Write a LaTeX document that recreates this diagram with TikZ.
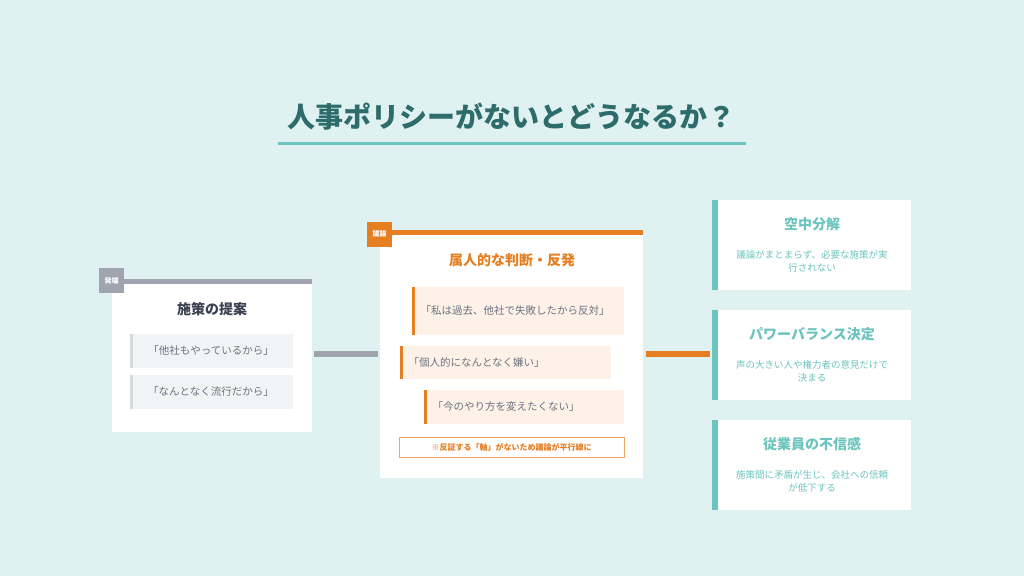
\documentclass[tikz,border=0pt]{standalone}
\usepackage{fontspec}
\setmainfont{Noto Sans CJK JP}
\definecolor{bgc}{HTML}{E0F1F1}
\definecolor{teal}{HTML}{6CC4BE}
\definecolor{darkteal}{HTML}{2E6B6B}
\definecolor{grayc}{HTML}{A0A4AE}
\definecolor{grayfill}{HTML}{F2F3F5}
\definecolor{graybar}{HTML}{D5D8DE}
\definecolor{graytext}{HTML}{6B7280}
\definecolor{darktext}{HTML}{3A4150}
\definecolor{orange}{HTML}{E67E22}
\definecolor{orangefill}{HTML}{FDF1E8}
\begin{document}
\begin{tikzpicture}[x=1pt,y=-1pt,
    card/.style = {fill=white, draw=none},
    tag/.style = {text=white, font=\fontsize{7}{8}\selectfont\bfseries, minimum width=25pt, minimum height=25pt, inner sep=0pt},
    head/.style = {font=\fontsize{14}{16}\selectfont\bfseries},
    quote/.style = {text=graytext, font=\fontsize{10.5}{12}\selectfont},
    desc/.style = {text=teal, font=\fontsize{9.5}{13}\selectfont, align=center, text width=175pt}]
  \useasboundingbox (0,0) rectangle (1024,576);
  \fill[bgc] (0,0) rectangle (1024,576);

  % title
  \node[text=darkteal, font=\fontsize{28}{30}\selectfont\bfseries] (title) at (511,117) {人事ポリシーがないとどうなるか？};
  \draw[teal, line width=3pt] (278,143) -- (746,143);

  % left card
  \fill[card] (112,280) rectangle (312,432);
  \draw[grayc, line width=5pt] (124,281) -- (312,281);
  \node[tag, fill=grayc] (tagL) at (111.5,280.5) {発端};
  \node[head, text=darktext] (headL) at (212,309) {施策の提案};
  \foreach \y/\t in {334/他社もやっているから, 375/なんとなく流行だから}{
    \fill[grayfill] (130,\y) rectangle (293,\y+34);
    \fill[graybar] (130,\y) rectangle (133,\y+34);
    \node[quote] at (211,\y+17) {「\t」};
  }

  % middle card
  \fill[card] (380,232) rectangle (643,478);
  \draw[orange, line width=5pt] (392,232.5) -- (643,232.5);
  \node[tag, fill=orange] (tagM) at (379.5,234) {議論};
  \node[head, text=orange] (headM) at (512,260) {属人的な判断・反発};
  \foreach \xa/\xb/\ya/\yb/\t in {412/624/287/335/私は過去、他社で失敗したから反対, 400/611/346/379/個人的になんとなく嫌い, 424/624/390/424/今のやり方を変えたくない}{
    \fill[orangefill] (\xa,\ya) rectangle (\xb,\yb);
    \fill[orange] (\xa,\ya) rectangle (\xa+3,\yb);
    \node[quote, anchor=west] at (\xa+5,{(\ya+\yb)/2}) {「\t」};
  }
  \node[draw=orange!70, thick, fill=white, text=orange, font=\fontsize{8}{9}\selectfont\bfseries, minimum width=225pt, minimum height=20pt, inner sep=0pt] (note) at (511.5,447) {※反証する「軸」がないため議論が平行線に};

  % connectors
  \coordinate (cL1) at (314,354);
  \coordinate (cL2) at (378,354);
  \coordinate (cR1) at (646,354);
  \coordinate (cR2) at (710,354);
  \draw[grayc, line width=6pt] (cL1) -- (cL2);
  \draw[orange, line width=6pt] (cR1) -- (cR2);

  % right cards
  \foreach \y/\h/\d in {200/空中分解/議論がまとまらず、必要な施策が実\\行されない, 310/パワーバランス決定/声の大きい人や権力者の意見だけで\\決まる, 420/従業員の不信感/施策間に矛盾が生じ、会社への信頼\\が低下する}{
    \fill[card] (712,\y) rectangle (911,\y+90);
    \fill[teal] (712,\y) rectangle (718,\y+90);
    \node[head, text=teal] at (812,\y+24) {\h};
    \node[desc] at (812,\y+61) {\d};
  }
\end{tikzpicture}
\end{document}
